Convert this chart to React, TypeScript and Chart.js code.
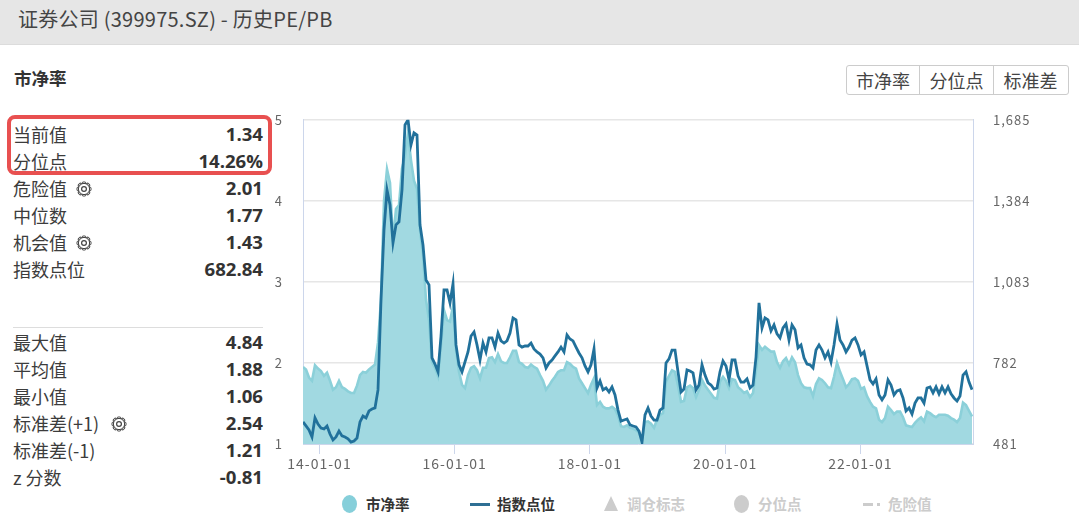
import { useEffect, useRef } from "react"
import { Chart, registerables } from "chart.js"

Chart.register(...registerables)

// sampling of the history, in decimal years
const firstYear = 2013.756
const stepYears = 0.04438

const tickYears = [2014, 2016, 2018, 2020, 2022]
const tickLabels = ["14-01-01", "16-01-01", "18-01-01", "20-01-01", "22-01-01"]

const pbValues = [
  1.95, 1.92, 1.82, 1.78, 1.97, 1.93, 1.9, 1.84, 1.88, 1.78, 1.67, 1.7, 1.78, 1.7, 1.68, 1.65,
  1.63, 1.63, 1.72, 1.85, 1.89, 1.88, 1.92, 1.95, 1.98, 2.25, 2.78, 4.0, 4.39, 4.22, 3.5, 3.9,
  3.95, 4.4, 4.55, 4.84, 4.5, 4.25, 4.15, 3.64, 3.33, 2.78, 2.53, 2.01, 1.94, 1.84, 2.22, 2.65,
  2.53, 2.51, 2.7, 2.16, 1.89, 1.73, 1.69, 1.85, 1.94, 1.96, 1.91, 1.81, 1.94, 1.94, 2.06, 2.07,
  2.01, 2.11, 2.02, 2.0, 2.0, 2.07, 2.15, 2.15, 2.01, 1.99, 1.95, 1.94, 1.98, 1.95, 1.93, 1.85,
  1.78, 1.67, 1.72, 1.78, 1.83, 1.89, 1.91, 1.91, 2.01, 1.99, 1.95, 1.93, 1.81, 1.75, 1.69, 1.63,
  1.73, 1.81, 1.48, 1.52, 1.46, 1.44, 1.44, 1.46, 1.43, 1.35, 1.22, 1.21, 1.23, 1.2, 1.19, 1.17,
  1.14, 1.06, 1.27, 1.28, 1.25, 1.2, 1.3, 1.36, 1.38, 1.77, 1.84, 1.91, 1.89, 1.72, 1.52, 1.53,
  1.7, 1.72, 1.69, 1.58, 1.67, 1.79, 1.72, 1.67, 1.62, 1.57, 1.56, 1.77, 1.83, 1.78, 1.69, 1.8,
  1.79, 1.7, 1.67, 1.63, 1.65, 1.58, 1.63, 1.91, 2.22, 2.16, 2.2, 2.17, 2.14, 2.14, 2.01, 1.94,
  2.02, 2.06, 1.98, 2.07, 2.01, 1.85, 1.75, 1.7, 1.69, 1.69, 1.59, 1.74, 1.81, 1.79, 1.75, 1.7,
  1.69, 1.83, 2.0, 1.89, 1.8, 1.7, 1.74, 1.8, 1.81, 1.78, 1.68, 1.7, 1.59, 1.52, 1.46, 1.44,
  1.3, 1.27, 1.32, 1.46, 1.42, 1.37, 1.4, 1.4, 1.33, 1.23, 1.22, 1.21, 1.26, 1.3, 1.33, 1.28,
  1.4, 1.38, 1.35, 1.33, 1.36, 1.36, 1.36, 1.35, 1.32, 1.3, 1.27, 1.32, 1.51, 1.48, 1.41, 1.34,
]

const indexValues = [
  563, 548, 533, 507, 578, 555, 540, 537, 548, 518, 496, 507, 529, 511, 507, 500,
  488, 492, 503, 563, 585, 578, 604, 611, 615, 682, 1016, 1276, 1425, 1369, 1228, 1295,
  1306, 1425, 1666, 1685, 1592, 1637, 1629, 1295, 1220, 1090, 1072, 801, 778, 749, 882, 1053,
  1053, 1005, 1076, 849, 775, 749, 786, 823, 882, 897, 849, 793, 856, 823, 875, 875,
  841, 893, 864, 856, 864, 893, 949, 942, 849, 841, 845, 845, 856, 834, 823, 815,
  801, 763, 782, 793, 808, 823, 841, 823, 886, 871, 864, 841, 819, 801, 771, 749,
  775, 834, 689, 715, 682, 689, 674, 693, 663, 607, 566, 570, 574, 552, 548, 544,
  529, 488, 589, 615, 585, 570, 570, 607, 615, 782, 797, 830, 830, 749, 674, 685,
  756, 752, 745, 682, 700, 775, 737, 708, 700, 685, 689, 749, 789, 771, 719, 793,
  793, 734, 711, 711, 723, 689, 700, 804, 1005, 912, 949, 942, 901, 923, 890, 875,
  912, 927, 867, 923, 905, 838, 849, 801, 778, 775, 763, 830, 849, 830, 801, 823,
  786, 849, 927, 867, 849, 823, 841, 867, 875, 849, 812, 823, 771, 719, 704, 723,
  663, 645, 663, 719, 700, 663, 678, 682, 652, 604, 615, 592, 633, 652, 652, 633,
  689, 693, 671, 693, 667, 693, 671, 693, 667, 652, 641, 659, 737, 749, 711, 683,
]

const pbTicks = [1, 2, 3, 4, 5]
const indexTicks = [481, 782, 1083, 1384, 1685]

const topRows = [
  { label: "当前值", value: "1.34" },
  { label: "分位点", value: "14.26%" },
  { label: "危险值", value: "2.01", gear: true },
  { label: "中位数", value: "1.77" },
  { label: "机会值", value: "1.43", gear: true },
  { label: "指数点位", value: "682.84" },
]

const bottomRows = [
  { label: "最大值", value: "4.84" },
  { label: "平均值", value: "1.88" },
  { label: "最小值", value: "1.06" },
  { label: "标准差(+1)", value: "2.54", gear: true },
  { label: "标准差(-1)", value: "1.21" },
  { label: "z 分数", value: "-0.81" },
]

const buttons = ["市净率", "分位点", "标准差"]

const FONT = '"Noto Sans CJK SC", "Noto Sans", sans-serif'

function Gear({ left, top }: { left: number; top: number }) {
  const teeth = [0, 45, 90, 135]
  return (
    <svg width="16" height="16" viewBox="0 0 16 16" style={{ position: "absolute", left, top }}>
      {teeth.map((a) => (
        <rect key={a} x="6.2" y="1" width="3.6" height="14" rx="1" fill="none" stroke="#444" strokeWidth="1" transform={`rotate(${a} 8 8)`} />
      ))}
      <circle cx="8" cy="8" r="5.6" fill="#fff" stroke="#444" strokeWidth="1" />
      <circle cx="8" cy="8" r="2.4" fill="none" stroke="#444" strokeWidth="1.2" />
    </svg>
  )
}

function StatRow({ row, y }: { row: { label: string; value: string; gear?: boolean }; y: number }) {
  const gearLeft = row.label.length > 4 ? 111 : 76
  return (
    <>
      <div style={{ position: "absolute", left: 13, top: y - 15, height: 28, lineHeight: "28px", fontSize: 18, color: "#3c3c3c", whiteSpace: "nowrap" }}>
        {row.label}
      </div>
      {row.gear && <Gear left={gearLeft} top={y - 8} />}
      <div style={{ position: "absolute", right: 1079 - 263, top: y - 15, height: 28, lineHeight: "28px", fontSize: 18.6, fontWeight: 700, color: "#333", fontFamily: '"Open Sans", sans-serif', whiteSpace: "nowrap" }}>
        {row.value}
      </div>
    </>
  )
}

function LegendText({ left, color, children }: { left: number; color: string; children: string }) {
  return (
    <div style={{ position: "absolute", left, top: 492, height: 24, lineHeight: "24px", fontSize: 14.5, fontWeight: 700, color, whiteSpace: "nowrap" }}>
      {children}
    </div>
  )
}

export default function App() {
  const chartRef = useRef<HTMLCanvasElement>(null)

  useEffect(() => {
    if (!chartRef.current) return
    const xValues = pbValues.map((_, i) => firstYear + i * stepYears)

    const chart = new Chart(chartRef.current, {
      type: "line",
      data: {
        labels: xValues,
        datasets: [
          {
            label: "指数点位",
            data: indexValues.map((v, i) => ({ x: xValues[i], y: v })),
            yAxisID: "yIndex",
            borderColor: "#21719b",
            borderWidth: 2.8,
            pointRadius: 0,
            tension: 0,
            fill: false,
            order: 1,
          },
          {
            label: "市净率",
            data: pbValues.map((v, i) => ({ x: xValues[i], y: v })),
            yAxisID: "yPb",
            borderColor: "#8bd0d9",
            backgroundColor: "#a1d9e1",
            borderWidth: 2.6,
            pointRadius: 0,
            tension: 0,
            fill: "start",
            order: 2,
          },
        ],
      },
      options: {
        animation: false,
        responsive: false,
        maintainAspectRatio: false,
        layout: { padding: 0 },
        plugins: { legend: { display: false }, tooltip: { enabled: false } },
        scales: {
          x: {
            type: "linear",
            min: firstYear,
            max: firstYear + 670 / 67.6,
            afterBuildTicks: (axis) => {
              axis.ticks = tickYears.map((value) => ({ value }))
            },
            afterFit: (axis) => {
              axis.height = 36
            },
            ticks: {
              autoSkip: false,
              maxRotation: 0,
              padding: 1,
              color: "#666",
              font: { family: FONT, size: 14 },
              callback: (value) => tickLabels[tickYears.indexOf(Number(value))],
            },
            grid: { drawOnChartArea: false, drawTicks: true, tickLength: 10, tickColor: "#ccd6eb" },
            border: { color: "#ccd6eb", width: 1 },
          },
          yPb: {
            position: "left",
            min: 1,
            max: 5,
            afterBuildTicks: (axis) => {
              axis.ticks = pbTicks.map((value) => ({ value }))
            },
            afterFit: (axis) => {
              axis.width = 33
            },
            ticks: { padding: 20, align: "center", color: "#666", font: { family: FONT, size: 13 } },
            grid: { color: "#e6e6e6", lineWidth: 1.5, drawTicks: false },
            border: { color: "#ccd6eb", width: 1 },
          },
          yIndex: {
            position: "right",
            min: 481,
            max: 1685,
            afterBuildTicks: (axis) => {
              axis.ticks = indexTicks.map((value) => ({ value }))
            },
            afterFit: (axis) => {
              axis.width = 106
            },
            ticks: {
              padding: 20,
              color: "#666",
              font: { family: FONT, size: 13 },
              callback: (value) => Number(value).toLocaleString("en-US"),
            },
            grid: { drawOnChartArea: false, drawTicks: false },
            border: { color: "#ccd6eb", width: 1 },
          },
        },
      },
      plugins: [
        {
          id: "tickSpacing",
          beforeDraw: (c) => {
            ;(c.ctx as any).letterSpacing = "1px"
          },
        },
      ],
    })

    return () => chart.destroy()
  }, [])

  return (
    <div style={{ position: "absolute", left: 0, top: 0, width: 1079, height: 517, overflow: "hidden", background: "#fff", fontFamily: FONT }}>
      <div style={{ position: "absolute", left: 0, top: 0, width: 1079, height: 44, background: "#e6e6e6", borderBottom: "1px solid #dcdcdc" }} />
      <div style={{ position: "absolute", left: 18, top: 3, height: 32, lineHeight: "32px", fontSize: 20, letterSpacing: 0.25, color: "#444", whiteSpace: "nowrap" }}>
        证券公司 (399975.SZ) - 历史PE/PB
      </div>
      <div style={{ position: "absolute", left: 14, top: 64, height: 28, lineHeight: "28px", fontSize: 17.5, fontWeight: 700, color: "#333" }}>市净率</div>

      <div style={{ position: "absolute", left: 846, top: 65, width: 221, height: 28, border: "1px solid #ccc", borderRadius: 3, display: "flex", boxSizing: "content-box" }}>
        {buttons.map((b, i) => (
          <div key={b} style={{ flex: i === 0 ? "0 0 72px" : "0 0 74px", textAlign: "center", lineHeight: "28px", fontSize: 18, color: "#444", borderLeft: i ? "1px solid #ccc" : "none", boxSizing: "border-box" }}>
            {b}
          </div>
        ))}
      </div>

      <div style={{ position: "absolute", left: 7, top: 115, width: 265, height: 60, boxSizing: "border-box", border: "4px solid #e85050", borderRadius: 8 }} />
      {topRows.map((row, i) => (
        <StatRow key={row.label} row={row} y={135 + i * 27} />
      ))}
      <div style={{ position: "absolute", left: 13, top: 327, width: 250, height: 1, background: "#ddd" }} />
      {bottomRows.map((row, i) => (
        <StatRow key={row.label} row={row} y={343 + i * 27} />
      ))}

      <canvas ref={chartRef} width={809} height={388} style={{ position: "absolute", left: 270, top: 92, width: 809, height: 388 }} />

      <div style={{ position: "absolute", left: 342, top: 495, width: 15, height: 18, borderRadius: "50%", background: "#86cfda" }} />
      <LegendText left={366} color="#333">市净率</LegendText>
      <div style={{ position: "absolute", left: 470, top: 503, width: 20, height: 3, background: "#2f6f94" }} />
      <LegendText left={497} color="#333">指数点位</LegendText>
      <div style={{ position: "absolute", left: 604, top: 496, width: 0, height: 0, borderLeft: "7px solid transparent", borderRight: "7px solid transparent", borderBottom: "15px solid #ccc" }} />
      <LegendText left={627} color="#ccc">调仓标志</LegendText>
      <div style={{ position: "absolute", left: 734, top: 495, width: 15, height: 18, borderRadius: "50%", background: "#ccc" }} />
      <LegendText left={758} color="#ccc">分位点</LegendText>
      <div style={{ position: "absolute", left: 863, top: 503, width: 10, height: 3, background: "#ccc" }} />
      <div style={{ position: "absolute", left: 877, top: 503, width: 3, height: 3, background: "#ccc" }} />
      <LegendText left={888} color="#ccc">危险值</LegendText>
    </div>
  )
}
